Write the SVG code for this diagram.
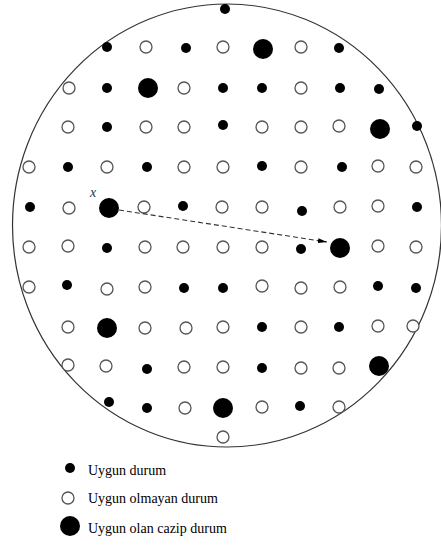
<svg xmlns="http://www.w3.org/2000/svg" width="441" height="547" viewBox="0 0 441 547">
<defs>
<style>
.f{fill:#000}
.o{fill:#fff;stroke:#555;stroke-width:1.3}
.b{fill:#000}
.lbl{font-family:"Liberation Serif","Times New Roman",serif;font-size:14px;fill:#000}
.conn{stroke:#333;stroke-width:1.1;stroke-dasharray:5 3;fill:none}
</style>
<marker id="ah" markerUnits="userSpaceOnUse" markerWidth="10" markerHeight="6" refX="9" refY="2.5" orient="auto">
<path d="M0,0 L9,2.5 L0,5 z" fill="#000"/>
</marker>
</defs>
<rect width="441" height="547" fill="#fff"/>
<g id="boundary"><ellipse cx="227" cy="225.5" rx="214.5" ry="221.5" fill="none" stroke="#333" stroke-width="1.2"/></g>
<g id="nodes">
<g id="top"><circle class="f" cx="225" cy="9" r="5"/></g>
<g id="r1c1"><circle class="f" cx="107" cy="47" r="5"/></g>
<g id="r1c2"><circle class="o" cx="146" cy="47" r="6"/></g>
<g id="r1c3"><circle class="f" cx="186" cy="48" r="5"/></g>
<g id="r1c4"><circle class="o" cx="223" cy="47" r="6"/></g>
<g id="r1c5"><circle class="b" cx="263" cy="49" r="10"/></g>
<g id="r1c6"><circle class="o" cx="301" cy="47" r="6"/></g>
<g id="r1c7"><circle class="f" cx="339" cy="48" r="5"/></g>
<g id="r2c1"><circle class="o" cx="69" cy="88" r="6"/></g>
<g id="r2c2"><circle class="f" cx="107" cy="88" r="5"/></g>
<g id="r2c3"><circle class="b" cx="148" cy="88" r="10"/></g>
<g id="r2c4"><circle class="o" cx="184" cy="88" r="6"/></g>
<g id="r2c5"><circle class="f" cx="223" cy="88" r="5"/></g>
<g id="r2c6"><circle class="f" cx="262" cy="88" r="5"/></g>
<g id="r2c7"><circle class="o" cx="301" cy="88" r="6"/></g>
<g id="r2c8"><circle class="f" cx="340" cy="88" r="5"/></g>
<g id="r2c9"><circle class="f" cx="379" cy="89" r="5"/></g>
<g id="r3c1"><circle class="o" cx="68" cy="127" r="6"/></g>
<g id="r3c2"><circle class="f" cx="107" cy="127" r="5"/></g>
<g id="r3c3"><circle class="o" cx="146" cy="127" r="6"/></g>
<g id="r3c4"><circle class="o" cx="184" cy="127" r="6"/></g>
<g id="r3c5"><circle class="f" cx="223" cy="125" r="5"/></g>
<g id="r3c6"><circle class="o" cx="262" cy="127" r="6"/></g>
<g id="r3c7"><circle class="o" cx="301" cy="127" r="6"/></g>
<g id="r3c8"><circle class="o" cx="339" cy="126" r="6"/></g>
<g id="r3c9"><circle class="b" cx="380" cy="129" r="10"/></g>
<g id="r3c10"><circle class="f" cx="417" cy="126" r="5"/></g>
<g id="r4c1"><circle class="o" cx="29" cy="167" r="6"/></g>
<g id="r4c2"><circle class="f" cx="68" cy="167" r="5"/></g>
<g id="r4c3"><circle class="o" cx="107" cy="167" r="6"/></g>
<g id="r4c4"><circle class="f" cx="147" cy="167" r="5"/></g>
<g id="r4c5"><circle class="o" cx="184" cy="167" r="6"/></g>
<g id="r4c6"><circle class="o" cx="223" cy="167" r="6"/></g>
<g id="r4c7"><circle class="f" cx="262" cy="166" r="5"/></g>
<g id="r4c8"><circle class="o" cx="301" cy="167" r="6"/></g>
<g id="r4c9"><circle class="f" cx="342" cy="167" r="5"/></g>
<g id="r4c10"><circle class="o" cx="378" cy="166" r="6"/></g>
<g id="r4c11"><circle class="o" cx="416" cy="167" r="6"/></g>
<g id="r5c1"><circle class="f" cx="30" cy="207" r="5"/></g>
<g id="r5c2"><circle class="o" cx="69" cy="208" r="6"/></g>
<g id="r5c3"><circle class="b" cx="109" cy="208" r="10"/></g>
<g id="r5c4"><circle class="o" cx="144" cy="207" r="6"/></g>
<g id="r5c5"><circle class="f" cx="183" cy="206" r="5"/></g>
<g id="r5c6"><circle class="o" cx="222" cy="207" r="6"/></g>
<g id="r5c7"><circle class="o" cx="262" cy="207" r="6"/></g>
<g id="r5c8"><circle class="f" cx="302" cy="211" r="5"/></g>
<g id="r5c9"><circle class="o" cx="340" cy="207" r="6"/></g>
<g id="r5c10"><circle class="o" cx="378" cy="206" r="6"/></g>
<g id="r5c11"><circle class="f" cx="417" cy="207" r="5"/></g>
<g id="r6c1"><circle class="o" cx="29" cy="247" r="6"/></g>
<g id="r6c2"><circle class="o" cx="68" cy="246" r="6"/></g>
<g id="r6c3"><circle class="f" cx="107" cy="248" r="5"/></g>
<g id="r6c4"><circle class="o" cx="145" cy="247" r="6"/></g>
<g id="r6c5"><circle class="o" cx="183" cy="247" r="6"/></g>
<g id="r6c6"><circle class="o" cx="223" cy="247" r="6"/></g>
<g id="r6c7"><circle class="o" cx="262" cy="247" r="6"/></g>
<g id="r6c8"><circle class="f" cx="301" cy="249" r="5"/></g>
<g id="r6c9"><circle class="b" cx="340" cy="248" r="10"/></g>
<g id="r6c10"><circle class="o" cx="378" cy="246" r="6"/></g>
<g id="r6c11"><circle class="o" cx="416" cy="247" r="6"/></g>
<g id="r7c1"><circle class="o" cx="29" cy="287" r="6"/></g>
<g id="r7c2"><circle class="f" cx="67" cy="285" r="5"/></g>
<g id="r7c3"><circle class="o" cx="107" cy="289" r="6"/></g>
<g id="r7c4"><circle class="o" cx="145" cy="287" r="6"/></g>
<g id="r7c5"><circle class="f" cx="184" cy="288" r="5"/></g>
<g id="r7c6"><circle class="f" cx="223" cy="288" r="5"/></g>
<g id="r7c7"><circle class="o" cx="262" cy="286" r="6"/></g>
<g id="r7c8"><circle class="o" cx="301" cy="288" r="6"/></g>
<g id="r7c9"><circle class="o" cx="340" cy="287" r="6"/></g>
<g id="r7c10"><circle class="f" cx="378" cy="286" r="5"/></g>
<g id="r7c11"><circle class="f" cx="416" cy="288" r="5"/></g>
<g id="r8c1"><circle class="o" cx="68" cy="327" r="6"/></g>
<g id="r8c2"><circle class="b" cx="107" cy="328" r="10"/></g>
<g id="r8c3"><circle class="o" cx="145" cy="328" r="6"/></g>
<g id="r8c4"><circle class="o" cx="186" cy="328" r="6"/></g>
<g id="r8c5"><circle class="o" cx="223" cy="327" r="6"/></g>
<g id="r8c6"><circle class="f" cx="262" cy="327" r="5"/></g>
<g id="r8c7"><circle class="o" cx="301" cy="327" r="6"/></g>
<g id="r8c8"><circle class="f" cx="339" cy="327" r="5"/></g>
<g id="r8c9"><circle class="o" cx="378" cy="326" r="6"/></g>
<g id="r8c10"><circle class="o" cx="413" cy="326" r="6"/></g>
<g id="r9c1"><circle class="o" cx="68" cy="365" r="6"/></g>
<g id="r9c2"><circle class="o" cx="106" cy="366" r="6"/></g>
<g id="r9c3"><circle class="f" cx="147" cy="369" r="5"/></g>
<g id="r9c4"><circle class="o" cx="184" cy="367" r="6"/></g>
<g id="r9c5"><circle class="o" cx="223" cy="367" r="6"/></g>
<g id="r9c6"><circle class="f" cx="262" cy="368" r="5"/></g>
<g id="r9c7"><circle class="o" cx="301" cy="368" r="6"/></g>
<g id="r9c8"><circle class="o" cx="339" cy="368" r="6"/></g>
<g id="r9c9"><circle class="b" cx="379" cy="366" r="10"/></g>
<g id="r10c1"><circle class="f" cx="109" cy="402" r="5"/></g>
<g id="r10c2"><circle class="f" cx="147" cy="408" r="5"/></g>
<g id="r10c3"><circle class="o" cx="185" cy="408" r="6"/></g>
<g id="r10c4"><circle class="b" cx="223" cy="408" r="10"/></g>
<g id="r10c5"><circle class="o" cx="262" cy="407" r="6"/></g>
<g id="r10c6"><circle class="f" cx="300" cy="406" r="5"/></g>
<g id="r10c7"><circle class="o" cx="339" cy="407" r="6"/></g>
<g id="bottom"><circle class="o" cx="223" cy="437" r="6"/></g>
</g>
<g id="connectors">
<line class="conn" x1="119" y1="210" x2="327" y2="242" marker-end="url(#ah)"/>
</g>
<g id="label-x"><text x="93" y="197" text-anchor="middle" font-family="Liberation Serif, serif" font-style="italic" font-size="14" fill="#333">x</text></g>
<g id="legend">
<g id="leg1"><circle class="f" cx="70" cy="468" r="5"/><text class="lbl" x="88" y="475">Uygun durum</text></g>
<g id="leg2"><circle class="o" cx="68" cy="498" r="6"/><text class="lbl" x="88" y="503">Uygun olmayan durum</text></g>
<g id="leg3"><circle class="b" cx="70" cy="526" r="10"/><text class="lbl" x="88" y="533">Uygun olan cazip durum</text></g>
</g>
</svg>
